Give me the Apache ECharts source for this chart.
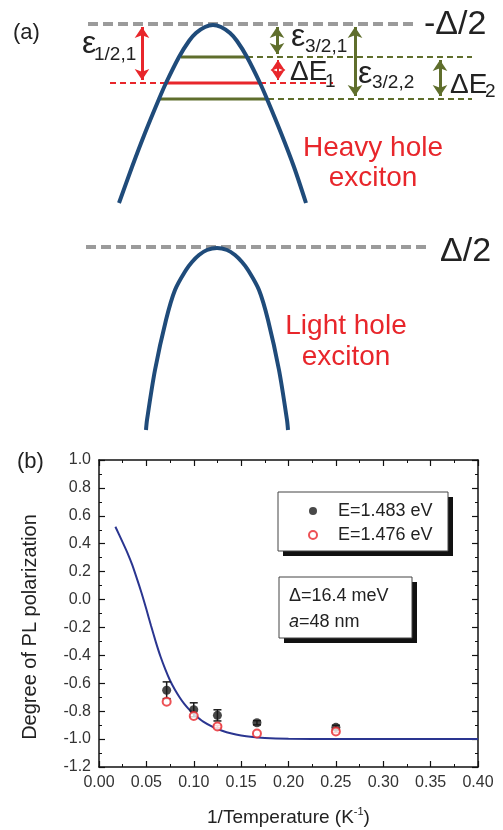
<!DOCTYPE html>
<html>
<head>
<meta charset="utf-8">
<script src="https://cdn.jsdelivr.net/npm/echarts@6/dist/echarts.min.js"></script>
<style>
    html, body { margin: 0; padding: 0; background: #fff; }
    #chart { width: 503px; height: 830px; }
</style>
</head>
<body>
<div id="chart"></div>
<script>
// ---- panel (b) data ----
const invTemp = [0.0714, 0.1, 0.125, 0.1667, 0.25];
const polHigh = [-0.65, -0.79, -0.83, -0.883, -0.916];   // E=1.483 eV
const polHighErr = [0.06, 0.05, 0.04, 0.015, 0.015];
const polLow = [-0.732, -0.835, -0.91, -0.96, -0.945];   // E=1.476 eV
const polLowErr = [0, 0, 0.008, 0, 0.008];
const fitX = [0.0173, 0.025, 0.03, 0.035, 0.04, 0.045, 0.05, 0.055, 0.06, 0.065, 0.07, 0.075, 0.08,
    0.085, 0.09, 0.095, 0.1, 0.11, 0.12, 0.13, 0.14, 0.15, 0.16, 0.175, 0.2, 0.25, 0.3, 0.35, 0.4];
const fitY = [0.522, 0.41, 0.335, 0.25, 0.15, 0.045, -0.07, -0.19, -0.305, -0.41, -0.5, -0.58, -0.645,
    -0.7, -0.748, -0.787, -0.82, -0.875, -0.912, -0.94, -0.96, -0.974, -0.984, -0.992, -0.997, -1.0, -1.0, -1.0, -1.0];
const xTicks = [0, 0.05, 0.1, 0.15, 0.2, 0.25, 0.3, 0.35, 0.4];
const yTicks = [-1.2, -1.0, -0.8, -0.6, -0.4, -0.2, 0, 0.2, 0.4, 0.6, 0.8, 1.0];

// ---- panel (a) schematic, in diagram units (k across, energy down) ----
const heavyHole = [[119, 203], [132, 167], [145, 133], [159, 99], [166, 83], [179, 57], [189, 41], [196, 33],
    [205, 27], [213, 25], [221, 27], [230, 33], [237, 41], [247, 57], [260, 83], [267, 99], [281, 133],
    [294, 167], [306, 203]];
const lightHole = [[146, 430], [147, 420], [155, 370], [166, 320], [175, 290], [186, 270], [192, 262],
    [199, 255], [207, 250], [217, 248], [227, 250], [235, 255], [242, 262], [248, 270], [259, 290],
    [268, 320], [279, 370], [287, 420], [288, 430]];
const refLevels = [[88, 413, 24], [86, 430, 247]];             // -Δ/2 and Δ/2
const hhLevels = [[181, 247, 472, 57], [160, 268, 472, 99]];    // solid from..to, dashed to, energy
const lhLevel = [110, 166, 260, 333, 83];                        // dashed, solid, solid end, dashed end, energy
const arrowsRed = [[142, 24, 83], [278, 57, 83]];
const arrowsGreen = [[277, 24, 57], [355, 24, 99], [440, 57, 99]];

const FONT = 'Liberation Sans, Arial, sans-serif';
const GREEN = '#5f6e2c';
const RED = '#e8262b';
const GRAY = '#9b9b9b';
const BAND = '#1f4b7a';

const chart = echarts.init(document.getElementById('chart'));

function seg(points, color, width, dash) {
    return {
        type: 'line',
        xAxisIndex: 2,
        yAxisIndex: 2,
        data: points,
        showSymbol: false,
        symbol: 'none',
        silent: true,
        lineStyle: { color: color, width: width, type: dash ? dash : 'solid' },
        z: 3
    };
}

const diagramSeries = [];
refLevels.forEach(l => diagramSeries.push(seg([[l[0], l[2]], [l[1], l[2]]], GRAY, 4, [10, 5])));
hhLevels.forEach(l => {
    diagramSeries.push(seg([[l[0], l[3]], [l[1], l[3]]], GREEN, 3));
    diagramSeries.push(seg([[l[1], l[3]], [l[2], l[3]]], GREEN, 2, [6, 4]));
});
diagramSeries.push(seg([[lhLevel[0], lhLevel[4]], [lhLevel[1], lhLevel[4]]], RED, 2, [6, 4]));
diagramSeries.push(seg([[lhLevel[1], lhLevel[4]], [lhLevel[2], lhLevel[4]]], RED, 3));
diagramSeries.push(seg([[lhLevel[2], lhLevel[4]], [lhLevel[3], lhLevel[4]]], RED, 2, [6, 4]));

const bandHH = seg(heavyHole, BAND, 4);
bandHH.smooth = 0.3;
bandHH.z = 4;
bandHH.markLine = {
    silent: true,
    animation: false,
    symbol: ['arrow', 'arrow'],
    symbolSize: [11, 11],
    label: { show: false },
    data: arrowsRed.map(a => [
        { coord: [a[0], a[1] + 3], lineStyle: { color: RED, width: a[2] - a[1] > 30 ? 3 : 2, type: 'solid' } },
        { coord: [a[0], a[2] - 3] }
    ]).concat(arrowsGreen.map(a => [
        { coord: [a[0], a[1] + 3], lineStyle: { color: GREEN, width: 3, type: 'solid' } },
        { coord: [a[0], a[2] - 3] }
    ]))
};
const bandLH = seg(lightHole, BAND, 4);
bandLH.smooth = 0.3;
bandLH.z = 4;
diagramSeries.push(bandHH, bandLH);

function errorBars(xs, ys, errs, color) {
    return {
        type: 'custom',
        xAxisIndex: 0,
        yAxisIndex: 0,
        silent: true,
        z: 3,
        data: xs.map((x, i) => [x, ys[i], errs[i]]),
        renderItem: function (params, api) {
            const x = api.value(0), y = api.value(1), e = api.value(2);
            if (!e) return;
            const hi = api.coord([x, y + e]);
            const lo = api.coord([x, y - e]);
            const st = { stroke: color, lineWidth: 1.5 };
            return {
                type: 'group',
                children: [
                    { type: 'line', shape: { x1: hi[0], y1: hi[1], x2: lo[0], y2: lo[1] }, style: st },
                    { type: 'line', shape: { x1: hi[0] - 4, y1: hi[1], x2: hi[0] + 4, y2: hi[1] }, style: st },
                    { type: 'line', shape: { x1: lo[0] - 4, y1: lo[1], x2: lo[0] + 4, y2: lo[1] }, style: st }
                ]
            };
        }
    };
}

function txt(x, y, text, size, opts) {
    return Object.assign({
        type: 'text',
        x: x,
        y: y,
        z: 10,
        silent: true,
        style: {
            text: text,
            fontSize: size,
            fontFamily: FONT,
            fill: '#222',
            align: 'left',
            verticalAlign: 'middle'
        }
    }, opts || {});
}
function ctxt(x, y, text, size, color) {
    const t = txt(x, y, text, size);
    t.style.align = 'center';
    t.style.fill = color;
    return t;
}

const graphics = [
    // panel (a) labels
    txt(13, 33, '(a)', 22),
    txt(424, 25, '-Δ/2', 34),
    txt(440, 252, 'Δ/2', 34),
    txt(82, 44, 'ε', 32),
    txt(94, 55, '1/2,1', 19),
    txt(291, 37, 'ε', 32),
    txt(305, 47, '3/2,1', 19),
    txt(290, 72, 'ΔE', 28),
    txt(325, 82, '1', 19),
    txt(358, 74, 'ε', 32),
    txt(372, 83, '3/2,2', 19),
    txt(450, 85, 'ΔE', 28),
    txt(485, 92, '2', 19),
    ctxt(373, 148, 'Heavy hole', 28, RED),
    ctxt(373, 178, 'exciton', 28, RED),
    ctxt(346, 326, 'Light hole', 28, RED),
    ctxt(346, 357, 'exciton', 28, RED),
    // panel (b) labels
    txt(17, 462, '(b)', 22),
    Object.assign(ctxt(0, 0, 'Degree of PL polarization', 20, '#222'), { x: 30, y: 627, rotation: Math.PI / 2 }),
    // legend box with drop shadow
    { type: 'rect', z: 3, silent: true, shape: { x: 283, y: 497, width: 170, height: 59 }, style: { fill: '#111' } },
    { type: 'rect', z: 3, silent: true, shape: { x: 278, y: 492, width: 170, height: 59 }, style: { fill: '#fff', stroke: '#444', lineWidth: 1 } },
    // parameter box with drop shadow
    { type: 'rect', z: 3, silent: true, shape: { x: 284, y: 582, width: 133, height: 61 }, style: { fill: '#111' } },
    { type: 'rect', z: 3, silent: true, shape: { x: 279, y: 577, width: 133, height: 61 }, style: { fill: '#fff', stroke: '#444', lineWidth: 1 } },
    txt(289, 596, 'Δ=16.4 meV', 18),
    {
        type: 'text', x: 289, y: 622, z: 10, silent: true,
        style: {
            text: '{i|a}=48 nm', fontSize: 18, fontFamily: FONT, fill: '#222', verticalAlign: 'middle',
            rich: { i: { fontStyle: 'italic', fontSize: 18, fontFamily: FONT, fill: '#222' } }
        }
    }
];

const axisBase = {
    axisLine: { show: true, onZero: false, lineStyle: { color: '#111', width: 1.5 } },
    axisTick: { show: true, inside: true, length: 6, lineStyle: { color: '#111', width: 1.2 } },
    minorTick: { show: true, splitNumber: 2, length: 3, lineStyle: { color: '#111', width: 1 } },
    splitLine: { show: false }
};

chart.setOption({
    animation: false,
    backgroundColor: '#fff',
    grid: [
        { left: 99, top: 460, width: 379, height: 307 },
        { left: 0, top: 0, width: 503, height: 430 }
    ],
    legend: {
        orient: 'vertical',
        left: 303,
        top: 497,
        itemWidth: 40,
        itemHeight: 8,
        itemGap: 6,
        z: 5,
        textStyle: { fontSize: 18, fontFamily: FONT, color: '#222', lineHeight: 18, padding: [0, 0, 0, 0] },
        selectedMode: false,
        data: ['E=1.483 eV', 'E=1.476 eV']
    },
    xAxis: [
        Object.assign({}, axisBase, {
            type: 'value', gridIndex: 0, min: 0, max: 0.4, interval: 0.05,
            name: '1/Temperature (K{sup|-1})',
            nameLocation: 'middle',
            nameGap: 39,
            nameTextStyle: {
                fontSize: 19, fontFamily: FONT, color: '#222',
                rich: { sup: { fontSize: 11, fontFamily: FONT, color: '#222', padding: [0, 0, 12, 0] } }
            },
            axisLabel: {
                margin: 8, fontSize: 16, fontFamily: FONT, color: '#333',
                formatter: v => xTicks.some(t => Math.abs(t - v) < 1e-9) ? v.toFixed(2) : ''
            }
        }),
        Object.assign({}, axisBase, {
            type: 'value', gridIndex: 0, position: 'top', min: 0, max: 0.4, interval: 0.05,
            axisLabel: { show: false }
        }),
        { type: 'value', gridIndex: 1, min: 0, max: 503, show: false }
    ],
    yAxis: [
        Object.assign({}, axisBase, {
            type: 'value', gridIndex: 0, min: -1.2, max: 1.0, interval: 0.2,
            axisLabel: {
                margin: 8, fontSize: 16, fontFamily: FONT, color: '#333',
                formatter: v => yTicks.some(t => Math.abs(t - v) < 1e-9) ? v.toFixed(1) : ''
            }
        }),
        Object.assign({}, axisBase, {
            type: 'value', gridIndex: 0, position: 'right', min: -1.2, max: 1.0, interval: 0.2,
            axisLabel: { show: false }
        }),
        { type: 'value', gridIndex: 1, min: 0, max: 430, inverse: true, show: false }
    ],
    graphic: graphics,
    series: [
        {
            name: 'fit',
            type: 'line',
            xAxisIndex: 0,
            yAxisIndex: 0,
            data: fitX.map((x, i) => [x, fitY[i]]),
            smooth: 0.2,
            showSymbol: false,
            symbol: 'none',
            lineStyle: { color: '#2a3590', width: 2 },
            z: 2
        },
        errorBars(invTemp, polHigh, polHighErr, '#1a1a1a'),
        errorBars(invTemp, polLow, polLowErr, '#e8262b'),
        {
            name: 'E=1.483 eV',
            type: 'scatter',
            xAxisIndex: 0,
            yAxisIndex: 0,
            symbol: 'circle',
            symbolSize: 9,
            itemStyle: { color: '#1a1a1a' },
            data: invTemp.map((x, i) => [x, polHigh[i]]),
            z: 4
        },
        {
            name: 'E=1.476 eV',
            type: 'scatter',
            xAxisIndex: 0,
            yAxisIndex: 0,
            symbol: 'emptyCircle',
            symbolSize: 8,
            itemStyle: { color: '#e8262b', borderColor: '#e8262b', borderWidth: 1.2 },
            data: invTemp.map((x, i) => [x, polLow[i]]),
            z: 5
        }
    ].concat(diagramSeries)
});
</script>
</body>
</html>
